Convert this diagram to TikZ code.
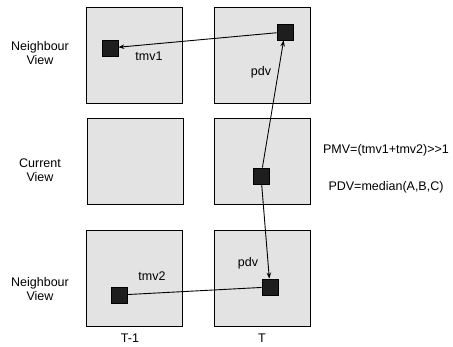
\documentclass[tikz,border=0pt]{standalone}
\usepackage{fontspec}
\setmainfont{Liberation Sans}
\usepackage{tikz}
\usetikzlibrary{positioning, arrows.meta}
\definecolor{frameFill}{HTML}{e3e3e3}
\definecolor{blockFill}{HTML}{1e1e1e}
\newcommand{\lblsize}{\fontsize{12.5}{14.5}\selectfont}

\begin{document}
\begin{tikzpicture}[x=1pt,y=-1pt,frame/.style={draw, line width=1pt, fill=frameFill, minimum width=96pt, minimum height=96pt, inner sep=0pt},blk/.style={draw, line width=0.8pt, fill=blockFill, minimum size=16pt, inner sep=0pt},lbl/.style={font=\lblsize, align=center},mv/.style={line width=0.9pt, -{Stealth[length=6pt,width=4.5pt]}}]
\useasboundingbox (0,0) rectangle (453,347);
\node[frame] (nbTa) at (134.5,56) {};
\node[frame, right=31pt of nbTa] (nbTb) {};
\node[frame, minimum height=86pt] (curTa) at (135,162) {};
\node[frame, minimum height=86pt, right=30pt of curTa] (curTb) {};
\node[frame] (nbBa) at (134.5,279) {};
\node[frame, right=31pt of nbBa] (nbBb) {};
\node[lbl] (nbTlbl) at (40,53) {Neighbour\\View};
\node[lbl] (curlbl) at (40,170) {Current\\View};
\node[lbl] (nbBlbl) at (40,289) {Neighbour\\View};
\node[blk] (tmvA) at (110,48) {};
\node[blk] (pdvA) at (285,32) {};
\node[blk] (cur) at (261,176) {};
\node[blk] (tmvB) at (119,295) {};
\node[blk] (pdvB) at (270,287) {};
\draw[mv] (pdvA) -- (tmvA);
\draw[mv] (cur) -- (pdvA);
\draw[mv] (cur) -- (pdvB);
\draw[line width=0.9pt] (pdvB) -- (tmvB);
\node[lbl] (tmvAlbl) at (149,56) {tmv1};
\node[lbl] (pdvAlbl) at (261,72) {pdv};
\node[lbl] (pdvBlbl) at (248,263) {pdv};
\node[lbl] (tmvBlbl) at (152,276) {tmv2};
\node[lbl] (pmv) at (386,150) {PMV=(tmv1+tmv2)>{}>1};
\node[lbl] (pdv) at (386,187) {PDV=median(A,B,C)};
\node[lbl] (tprev) at (130,338) {T-1};
\node[lbl] (tcur) at (262,338) {T};
\end{tikzpicture}
\end{document}
